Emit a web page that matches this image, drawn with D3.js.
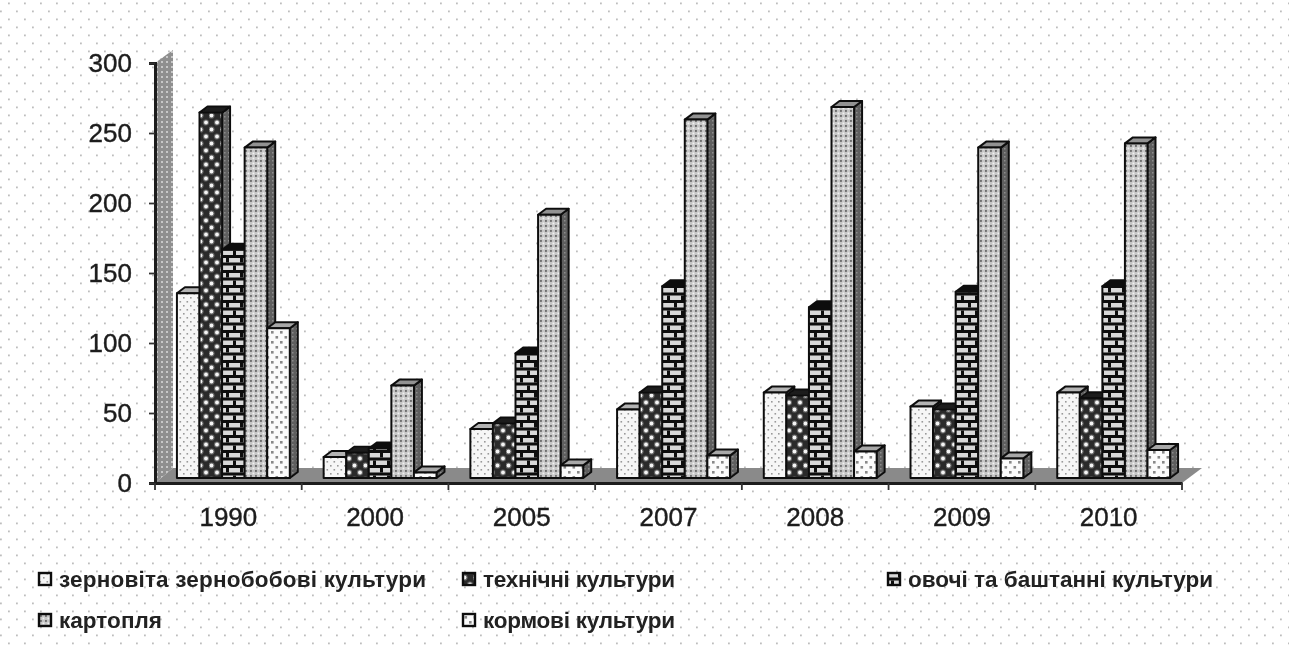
<!DOCTYPE html>
<html>
<head>
<meta charset="utf-8">
<script src="https://cdn.jsdelivr.net/npm/d3@7"></script>
<style>
  html, body { margin: 0; padding: 0; background: #fff; }
  svg { display: block; }
  text { font-family: "Liberation Sans", Arial, sans-serif; fill: #222; }
</style>
</head>
<body>
<svg id="chart" width="1289" height="650"></svg>
<script>
const years = ['1990', '2000', '2005', '2007', '2008', '2009', '2010'];
const seriesNames = ['зерновіта зернобобові культури', 'технічні культури', 'овочі та баштанні культури', 'картопля', 'кормові культури'];
const grain = [132, 15, 35, 49, 61, 51, 61];
const technical = [261, 18, 39, 61, 59, 49, 57];
const vegetables = [163, 21, 89, 137, 122, 133, 137];
const potatoes = [236, 66, 188, 256, 265, 236, 239];
const fodder = [107, 4, 9, 16, 19, 14, 20];
const allSeries = [grain, technical, vegetables, potatoes, fodder];
const yTicks = [0, 50, 100, 150, 200, 250, 300];

const capColors = ['#b4b4b4', '#1c1c1c', '#111', '#929292', '#a8a8a8'];
const W = 1289, H = 650;
const depthX = 8, depthY = 6, baseShift = 5;  // bar box depth, and bars sit a bit in from the axis
const wallX = 18, wallY = 15;

const svg = d3.select('#chart');
const defs = svg.append('defs');

defs.append('filter').attr('id', 'soft').attr('x', '-2%').attr('y', '-2%').attr('width', '104%').attr('height', '104%')
  .append('feGaussianBlur').attr('stdDeviation', 0.7);

function pattern(id, w, h, bg) {
  const p = defs.append('pattern').attr('id', id).attr('patternUnits', 'userSpaceOnUse').attr('width', w).attr('height', h);
  p.append('rect').attr('width', w).attr('height', h).attr('fill', bg);
  return p;
}
function dot(p, x, y, s, c) { p.append('rect').attr('x', x).attr('y', y).attr('width', s).attr('height', s).attr('fill', c); }

// page background dots
const bgp = pattern('bg', 16, 16, '#fff');
dot(bgp, 0, 10.5, 1.8, '#bdbdbd');
dot(bgp, 8, 2.5, 1.8, '#bdbdbd');

const wall = pattern('wall', 5, 5, '#8f8f8f');
dot(wall, 1, 1, 2, '#c8c8c8');

const side = pattern('side', 4, 4, '#5f5f5f');
dot(side, 0, 0, 1.5, '#8c8c8c');

const p0 = pattern('p0', 7, 8, '#f6f6f6');
dot(p0, 1, 1, 1.6, '#999');
dot(p0, 4.5, 5, 1.6, '#999');

const p1 = pattern('p1', 11, 14, '#2b2b2b');
[[1, 2], [6.5, 9]].forEach(d => {
  p1.append('circle').attr('cx', d[0] + 1.5).attr('cy', d[1] + 1.5).attr('r', 3.1).attr('fill', '#666');
  p1.append('circle').attr('cx', d[0] + 1.5).attr('cy', d[1] + 1.5).attr('r', 1.9).attr('fill', '#f4f4f4');
});

const p2 = pattern('p2', 14, 15, '#d8d8d8');
p2.append('rect').attr('y', 0).attr('width', 14).attr('height', 3).attr('fill', '#0a0a0a');
p2.append('rect').attr('y', 7.5).attr('width', 14).attr('height', 3).attr('fill', '#0a0a0a');
p2.append('rect').attr('x', 2).attr('y', 3).attr('width', 3).attr('height', 4.5).attr('fill', '#0a0a0a');
p2.append('rect').attr('x', 9).attr('y', 10.5).attr('width', 3).attr('height', 4.5).attr('fill', '#0a0a0a');

const p3 = pattern('p3', 5, 5, '#c6c6c6');
dot(p3, 0, 0, 1.9, '#6e6e6e');
dot(p3, 2.5, 2.5, 1.9, '#f2f2f2');

const p4 = pattern('p4', 9, 10, '#fbfbfb');
dot(p4, 1, 1, 2.6, '#888');
dot(p4, 5.5, 6, 2.6, '#888');

const root = svg.append('g').attr('filter', 'url(#soft)');
root.append('rect').attr('width', W).attr('height', H).attr('fill', 'url(#bg)');

const x = d3.scaleBand().domain(years).range([155, 1182]);
const xs = d3.scaleBand().domain(d3.range(5)).range([0, x.bandwidth()]).paddingInner(0).paddingOuter(0.75);
const y = d3.scaleLinear().domain([0, 300]).range([483, 63]);
const x0 = x.range()[0], x1 = x.range()[1];

// wall + floor
root.append('path').attr('fill', 'url(#wall)')
  .attr('d', d3.line()([[x0, y(0)], [x0, y(300)], [x0 + wallX, y(300) - wallY + 2], [x0 + wallX, y(0) - wallY]]));
root.append('path').attr('fill', '#8a8a8a')
  .attr('d', d3.line()([[x0, y(0)], [x0 + wallX, y(0) - wallY], [x1 + wallX + 2, y(0) - wallY], [x1, y(0)]]));

// bars, left to right so each one covers the side of the one before
const stroke = '#111';
years.forEach((yr, i) => {
  allSeries.forEach((vals, s) => {
    const v = vals[i];
    const left = x(yr) + xs(s) + baseShift, right = left + xs.bandwidth();
    const top = y(v) - baseShift, bot = y(0) - baseShift;
    const g = root.append('g').attr('stroke', stroke).attr('stroke-width', 2).attr('stroke-linejoin', 'round');
    g.append('path').attr('fill', 'url(#side)')
      .attr('d', d3.line()([[right, top], [right + depthX, top - depthY], [right + depthX, bot - depthY], [right, bot]]) + 'Z');
    g.append('path').attr('fill', capColors[s])
      .attr('d', d3.line()([[left, top], [left + depthX, top - depthY], [right + depthX, top - depthY], [right, top]]) + 'Z');
    g.append('rect').attr('x', left).attr('y', top).attr('width', right - left).attr('height', bot - top)
      .attr('fill', `url(#p${s})`);
  });
});

// axes
const axisY = root.append('g').attr('transform', `translate(${x0},0)`)
  .call(d3.axisLeft(y).tickValues(yTicks).tickSize(6).tickPadding(17));
axisY.selectAll('text').attr('font-size', 26);
const axisX = root.append('g').attr('transform', `translate(0,${y(0)})`)
  .call(d3.axisBottom(x).tickSize(0).tickPadding(25));
axisX.selectAll('text').attr('font-size', 26);
root.selectAll('.domain').attr('stroke', '#1a1a1a').attr('stroke-width', 3);
root.selectAll('.tick line').attr('stroke', '#333').attr('stroke-width', 1.8);
root.selectAll('.tick text').style('fill', '#1c1c1c').style('font-family', '"Liberation Sans", Arial, sans-serif')
  .attr('stroke', '#1c1c1c').attr('stroke-width', 0.4);
root.selectAll('.xtick').data(years.concat(['end'])).enter().append('line').attr('class', 'xtick')
  .attr('x1', d => d === 'end' ? x1 : x(d)).attr('x2', d => d === 'end' ? x1 : x(d))
  .attr('y1', y(0)).attr('y2', y(0) + 7).attr('stroke', '#333').attr('stroke-width', 1.8);

// legend
const legendX = [38, 462, 887];
const legendTextW = [367, 192, 305, 103, 192];
const legendCells = [[0, 0], [1, 0], [2, 0], [0, 1], [1, 1]];
const legendRowY = [587, 628];
const legend = root.append('g');
seriesNames.forEach((name, s) => {
  const c = legendCells[s];
  const ly = legendRowY[c[1]];
  legend.append('rect').attr('x', legendX[c[0]] + 1).attr('y', ly - 14).attr('width', 12).attr('height', 12)
    .attr('fill', `url(#p${s})`).attr('stroke', '#111').attr('stroke-width', 2.4);
  legend.append('text').attr('x', legendX[c[0]] + 21).attr('y', ly)
    .attr('font-size', 22.5).attr('font-weight', 'bold').attr('textLength', legendTextW[s]).attr('lengthAdjust', 'spacing')
    .text(name);
});
</script>
</body>
</html>
